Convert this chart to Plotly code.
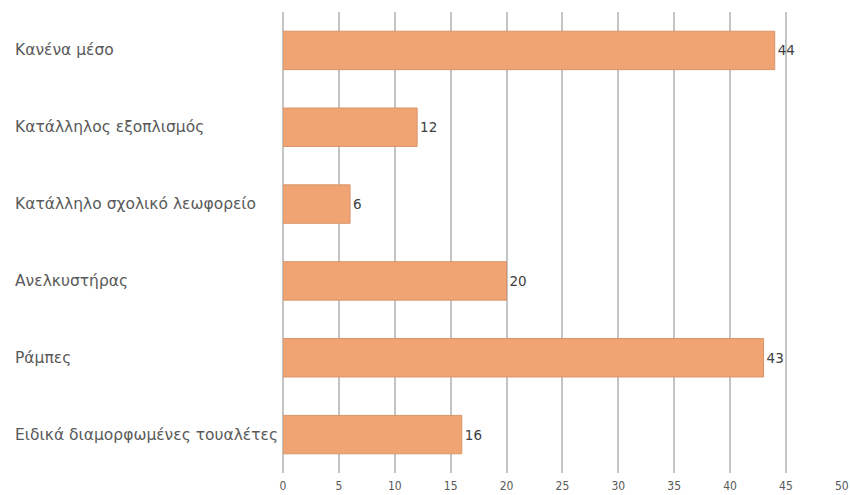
import plotly.graph_objects as go

categories = ["Κανένα μέσο", "Κατάλληλος εξοπλισμός", "Κατάλληλο σχολικό λεωφορείο",
              "Ανελκυστήρας", "Ράμπες", "Ειδικά διαμορφωμένες τουαλέτες"]
values = [44, 12, 6, 20, 43, 16]
x_ticks = [0, 5, 10, 15, 20, 25, 30, 35, 40, 45, 50]

L, R, T, B = 283, 8, 12, 22
W, H = 850, 495
plot_w = W - L - R

fig = go.Figure(go.Bar(
    y=categories, x=values, orientation="h",
    marker=dict(color="#F0A473", line=dict(color="#D89468", width=1)),
    width=0.5,
    text=[str(v) for v in values], textposition="outside",
    textfont=dict(size=13.5, color="#404040", family="DejaVu Sans"),
    cliponaxis=False,
))

for c in categories:
    fig.add_annotation(
        x=(13 - L) / plot_w, xref="paper", xanchor="left",
        y=c, yref="y", yanchor="middle",
        text=c, showarrow=False,
        font=dict(size=15.5, color="#595959", family="DejaVu Sans"),
    )

fig.update_layout(
    width=W, height=H,
    margin=dict(l=L, r=R, t=T, b=B, autoexpand=False),
    paper_bgcolor="white", plot_bgcolor="white",
    showlegend=False,
    font=dict(family="DejaVu Sans", color="#595959"),
    xaxis=dict(range=[0, 50.02], tickvals=x_ticks, showgrid=True, gridcolor="#C4C4C4",
               gridwidth=2, zeroline=True, zerolinecolor="#C4C4C4", zerolinewidth=2,
               showline=False, automargin=False,
               tickfont=dict(size=12, color="#595959", family="DejaVu Sans Condensed"),
               ticklen=0, ticklabelstandoff=4),
    yaxis=dict(autorange="reversed", showgrid=False, zeroline=False, showline=False,
               showticklabels=False, ticks="", automargin=False),
)

fig.write_html("out.html", config={"displayModeBar": False},
               post_script="document.body.style.margin='0';")
